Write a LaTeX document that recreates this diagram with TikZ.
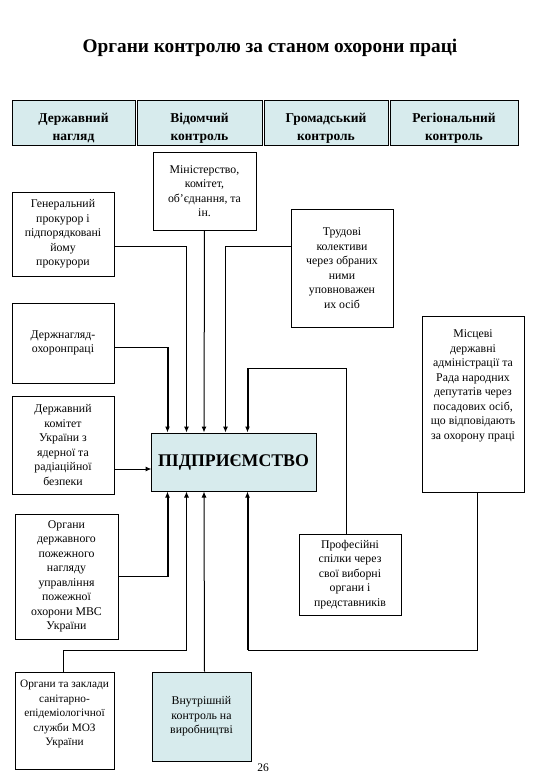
\documentclass[tikz,border=0pt]{standalone}
\usepackage{fontspec}
\setmainfont{Liberation Serif}
\usetikzlibrary{arrows.meta}
\definecolor{boxblue}{RGB}{215,235,237}
\begin{document}
\begin{tikzpicture}[x=1pt,y=-1pt,
 box/.style={draw=black, line width=1pt, inner sep=1pt, align=center, font=\fontsize{11.8}{14.5}\selectfont},
 txt/.style={inner sep=0pt, align=center, font=\fontsize{11.8}{14.5}\selectfont},
 hdr/.style={draw=black, line width=1pt, fill=boxblue, minimum height=45pt},
 hdrtxt/.style={inner sep=0pt, align=center, font=\bfseries\fontsize{13.5}{18}\selectfont},
 ln/.style={line width=1pt},
 lnarr/.style={line width=1pt, -{Latex[length=6pt,width=5pt]}},
 thk/.style={line width=2pt, -{Latex[length=6pt,width=5pt]}}]
\useasboundingbox (0,0) rectangle (540,780);
\node[font=\bfseries\fontsize{19.3}{22}\selectfont] (title) at (270,48) {Органи контролю за станом охорони праці};

\node[hdr, minimum width=123pt] (h1) at (73.5,122.5) {};
\node[hdr, minimum width=125pt] (h2) at (199.5,122.5) {};
\node[hdr, minimum width=124pt] (h3) at (326,122.5) {};
\node[hdr, minimum width=128pt] (h4) at (454,122.5) {};
\node[hdrtxt] (h1t) at (73.5,128.5) {Державний\\нагляд};
\node[hdrtxt] (h2t) at (199.5,128.5) {Відомчий\\контроль};
\node[hdrtxt] (h3t) at (326,128.5) {Громадський\\контроль};
\node[hdrtxt] (h4t) at (454,128.5) {Регіональний\\контроль};

\node[box, minimum width=103pt, minimum height=78pt] (min) at (204.5,191) {Міністерство,\\комітет,\\об’єднання, та\\ін.};
\node[box, minimum width=102pt, minimum height=84pt] (gen) at (63,234) {Генеральний\\прокурор і\\підпорядковані\\йому\\прокурори};
\node[box, minimum width=102pt, minimum height=118pt] (trud) at (342,268) {Трудові\\колективи\\через обраних\\ними\\уповноважен\\их осіб};
\node[box, minimum width=102pt, minimum height=176pt] (mis) at (473,404) {};
\node[txt] (mistxt) at (473,386) {Місцеві\\державні\\адміністрації та\\Рада народних\\депутатів через\\посадових осіб,\\що відповідають\\за охорону праці};
\node[box, minimum width=102pt, minimum height=80pt] (derzhn) at (63,343) {Держнагляд-\\охоронпраці};
\node[box, minimum width=102pt, minimum height=98pt] (derzhkom) at (63,445) {Державний\\комітет\\України з\\ядерної та\\радіаційної\\безпеки};
\node[box, fill=boxblue, minimum width=165pt, minimum height=58pt, font=\bfseries\fontsize{17.8}{20}\selectfont] (ent) at (233.5,462) {ПІДПРИЄМСТВО};
\node[box, minimum width=103pt, minimum height=125pt] (pozh) at (66.5,576.5) {Органи\\державного\\пожежного\\нагляду\\управління\\пожежної\\охорони МВС\\України};
\node[box, minimum width=102pt, minimum height=81pt] (prof) at (350,574.5) {Професійні\\спілки через\\свої виборні\\органи і\\представників};
\node[box, minimum width=99pt, minimum height=97pt] (san) at (64.5,720.5) {};
\node[txt, font=\fontsize{11.3}{14.5}\selectfont] (santxt) at (64.5,714) {Органи та заклади\\санітарно-\\епідеміологічної\\служби МОЗ\\України};
\node[box, fill=boxblue, minimum width=99pt, minimum height=89pt] (vnut) at (201.5,716.5) {Внутрішній\\контроль на\\виробництві};
\node[font=\fontsize{11.5}{13}\selectfont] (pg) at (263,768) {26};

% corners
\coordinate (c1) at ([xshift=17pt]ent.north west |- derzhn.east);
\coordinate (c1) at ([yshift=-4pt]c1);
\coordinate (c5) at ([xshift=-4pt]prof.north |- 0,368);
\coordinate (c5b) at ([xshift=97pt]ent.north west |- c5);
\coordinate (b1) at ([xshift=17pt]ent.south west |- pozh.east);
\coordinate (b2a) at ([xshift=-1.5pt]san.north |- 0,650);
\coordinate (b4a) at ([xshift=4pt]mis.south |- 0,650);
\coordinate (b4b) at ([xshift=97pt]ent.south west |- b4a);

% top inputs
\draw[ln] ([yshift=-4pt]derzhn.east) -- (c1);
\draw[thk] (c1) -- ([xshift=17pt]ent.north west);
\draw[lnarr] ([yshift=-12pt]gen.east) -| ([xshift=36pt]ent.north west);
\draw[lnarr] (min.south) -- ([xshift=53.5pt]ent.north west);
\draw[lnarr] ([yshift=22pt]trud.west) -| ([xshift=75pt]ent.north west);
\draw[ln] ([xshift=-4pt]prof.north) -- (c5) -- (c5b);
\draw[thk] (c5b) -- ([xshift=97pt]ent.north west);
% left input
\draw[lnarr] ([yshift=-24pt]derzhkom.east) -- ++(37,0);
% bottom inputs
\draw[ln] (pozh.east) -- (b1);
\draw[thk] (b1) -- ([xshift=17pt]ent.south west);
\draw[lnarr] ([xshift=-1.5pt]san.north) -- (b2a) -| ([xshift=36pt]ent.south west);
\draw[lnarr] ([xshift=3pt]vnut.north) -- ([xshift=53.5pt]ent.south west);
\draw[ln] ([xshift=4pt]mis.south) -- (b4a) -- (b4b);
\draw[thk] (b4b) -- ([xshift=97pt]ent.south west);
\end{tikzpicture}
\end{document}
